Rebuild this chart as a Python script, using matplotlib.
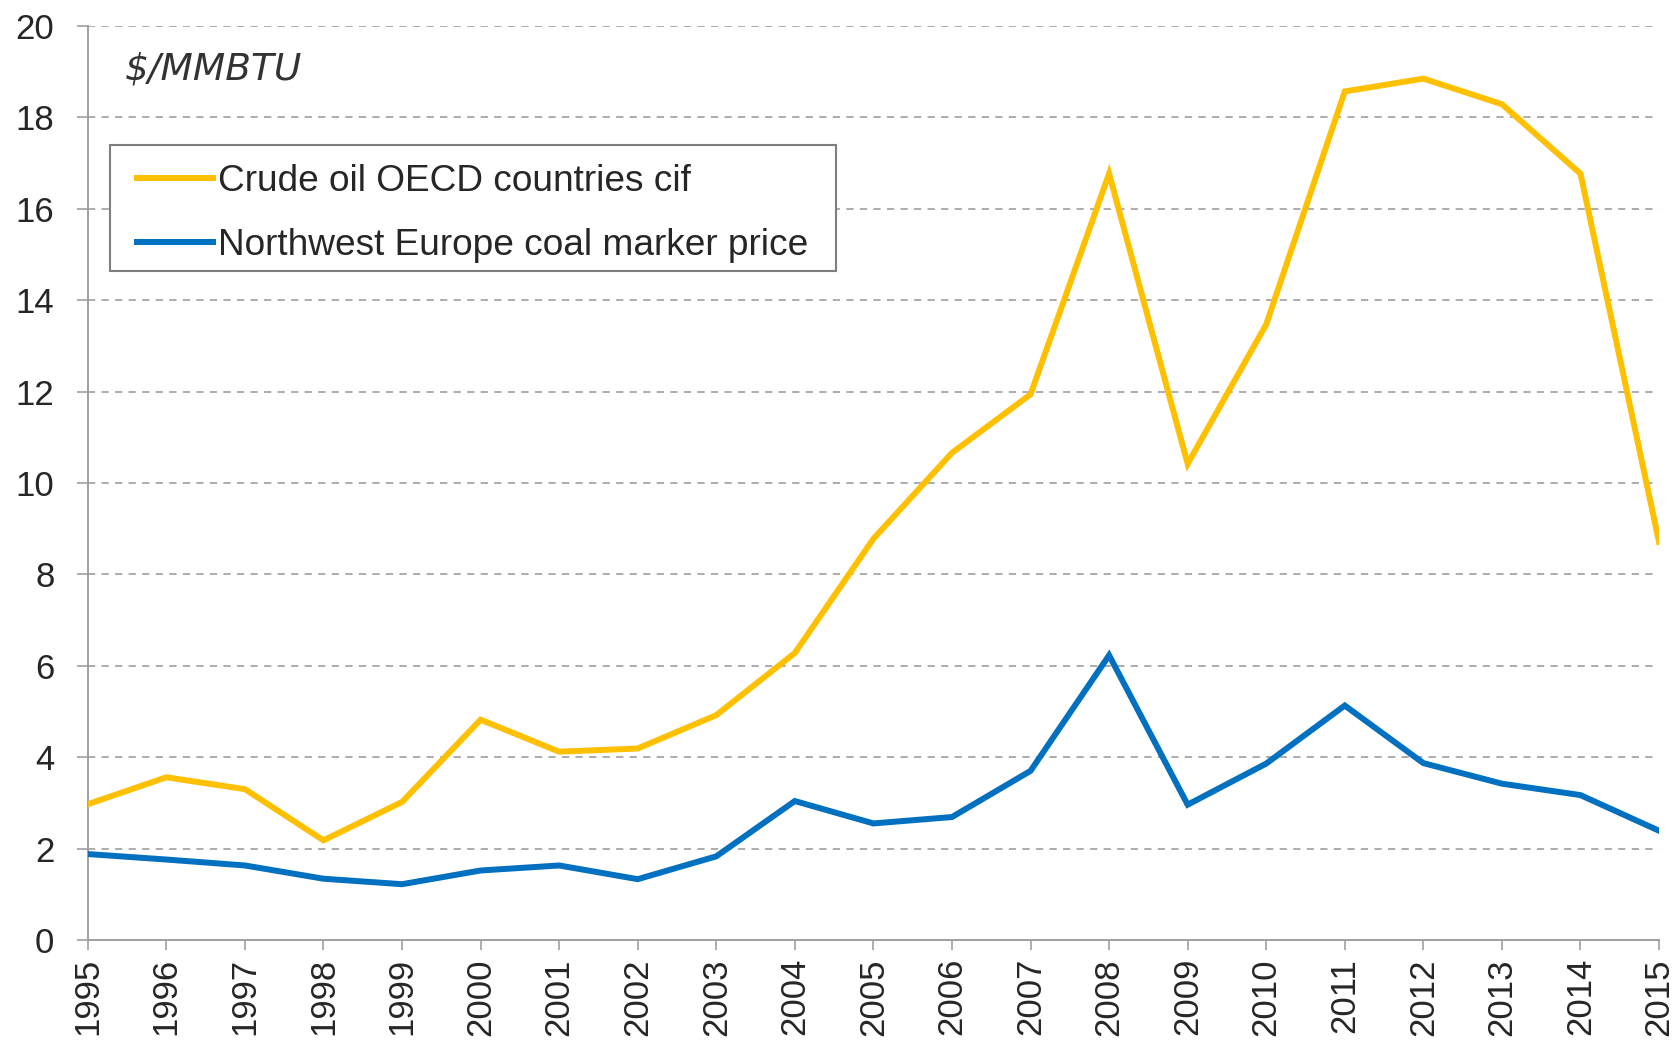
import matplotlib
matplotlib.use("Agg")
import matplotlib.pyplot as plt
from matplotlib.patches import Rectangle

plt.rcParams['font.family'] = ['Liberation Sans', 'DejaVu Sans']

years = list(range(1995, 2016))
crude_oil = [2.97, 3.56, 3.30, 2.18, 3.02, 4.82, 4.12, 4.19, 4.92, 6.28, 8.78,
             10.66, 11.94, 16.77, 10.42, 13.47, 18.57, 18.85, 18.29, 16.77, 8.71]
coal = [1.88, 1.76, 1.63, 1.34, 1.22, 1.52, 1.63, 1.33, 1.83, 3.04, 2.55,
        2.69, 3.70, 6.23, 2.96, 3.86, 5.13, 3.87, 3.42, 3.17, 2.39]
series_labels = ["Crude oil OECD countries cif", "Northwest Europe coal marker price"]
y_ticks = list(range(0, 21, 2))

fig = plt.figure(figsize=(16.78, 10.43), dpi=100)
ax = fig.add_axes([0.0523, 0.0988, 0.9364, 0.8762])

ax.plot(years, crude_oil, color="#FFC000", lw=4.3, solid_joinstyle="miter",
        label=series_labels[0], zorder=3)
ax.plot(years, coal, color="#0070C0", lw=4.3, solid_joinstyle="miter",
        label=series_labels[1], zorder=3)

ax.set_xlim(years[0], years[-1])
ax.set_ylim(0, 20)
ax.set_yticks(y_ticks)
ax.set_xticks(years)
ax.set_xticklabels([str(y) for y in years], rotation=90, va="top")

for y in y_ticks[1:]:
    ax.axhline(y, color="#A6A6A6", lw=1.3, ls=(0, (4, 3.5)), zorder=1)

for side in ("top", "right"):
    ax.spines[side].set_visible(False)
for side in ("left", "bottom"):
    ax.spines[side].set_color("#A0A0A0")
    ax.spines[side].set_linewidth(1.4)

ax.tick_params(axis="y", length=8, width=1.2, color="#A0A0A0", pad=16,
               labelsize=25, labelcolor="#262626")
ax.tick_params(axis="x", length=7, width=1.2, color="#A0A0A0", pad=6,
               labelsize=25, labelcolor="#262626")

ax.text(0.0236, 0.952, "$/MMBTU", transform=ax.transAxes, fontsize=27,
        family="DejaVu Sans", style="italic", color="#333333",
        va="center", ha="left")

# legend; its frame is drawn separately so the side padding can exceed the top/bottom padding
fs = 26.65
shift_px = 5.5
ax_h_px = ax.get_position().height * fig.bbox.height
leg = ax.legend(loc="upper left", bbox_to_anchor=(0.0229, 0.870 - shift_px / ax_h_px),
                borderaxespad=0, fontsize=fs, frameon=True, fancybox=False,
                handlelength=2.05, handletextpad=0.15, labelspacing=0.8, borderpad=0.36)
for t in leg.get_texts():
    t.set_color("#262626")
leg.get_frame().set_visible(False)

fig.canvas.draw()
bb = leg.get_window_extent()
W, H = fig.bbox.width, fig.bbox.height
dx = 14
frame = Rectangle(((bb.x0 - dx) / W, (bb.y0 + shift_px) / H),
                  (bb.width + 2 * dx) / W, bb.height / H,
                  transform=fig.transFigure, facecolor="white", edgecolor="#7F7F7F",
                  linewidth=1.5, zorder=4)
fig.add_artist(frame)
leg.set_zorder(5)
fig.add_artist(leg)

fig.savefig("out.png", dpi=100, facecolor="white")
